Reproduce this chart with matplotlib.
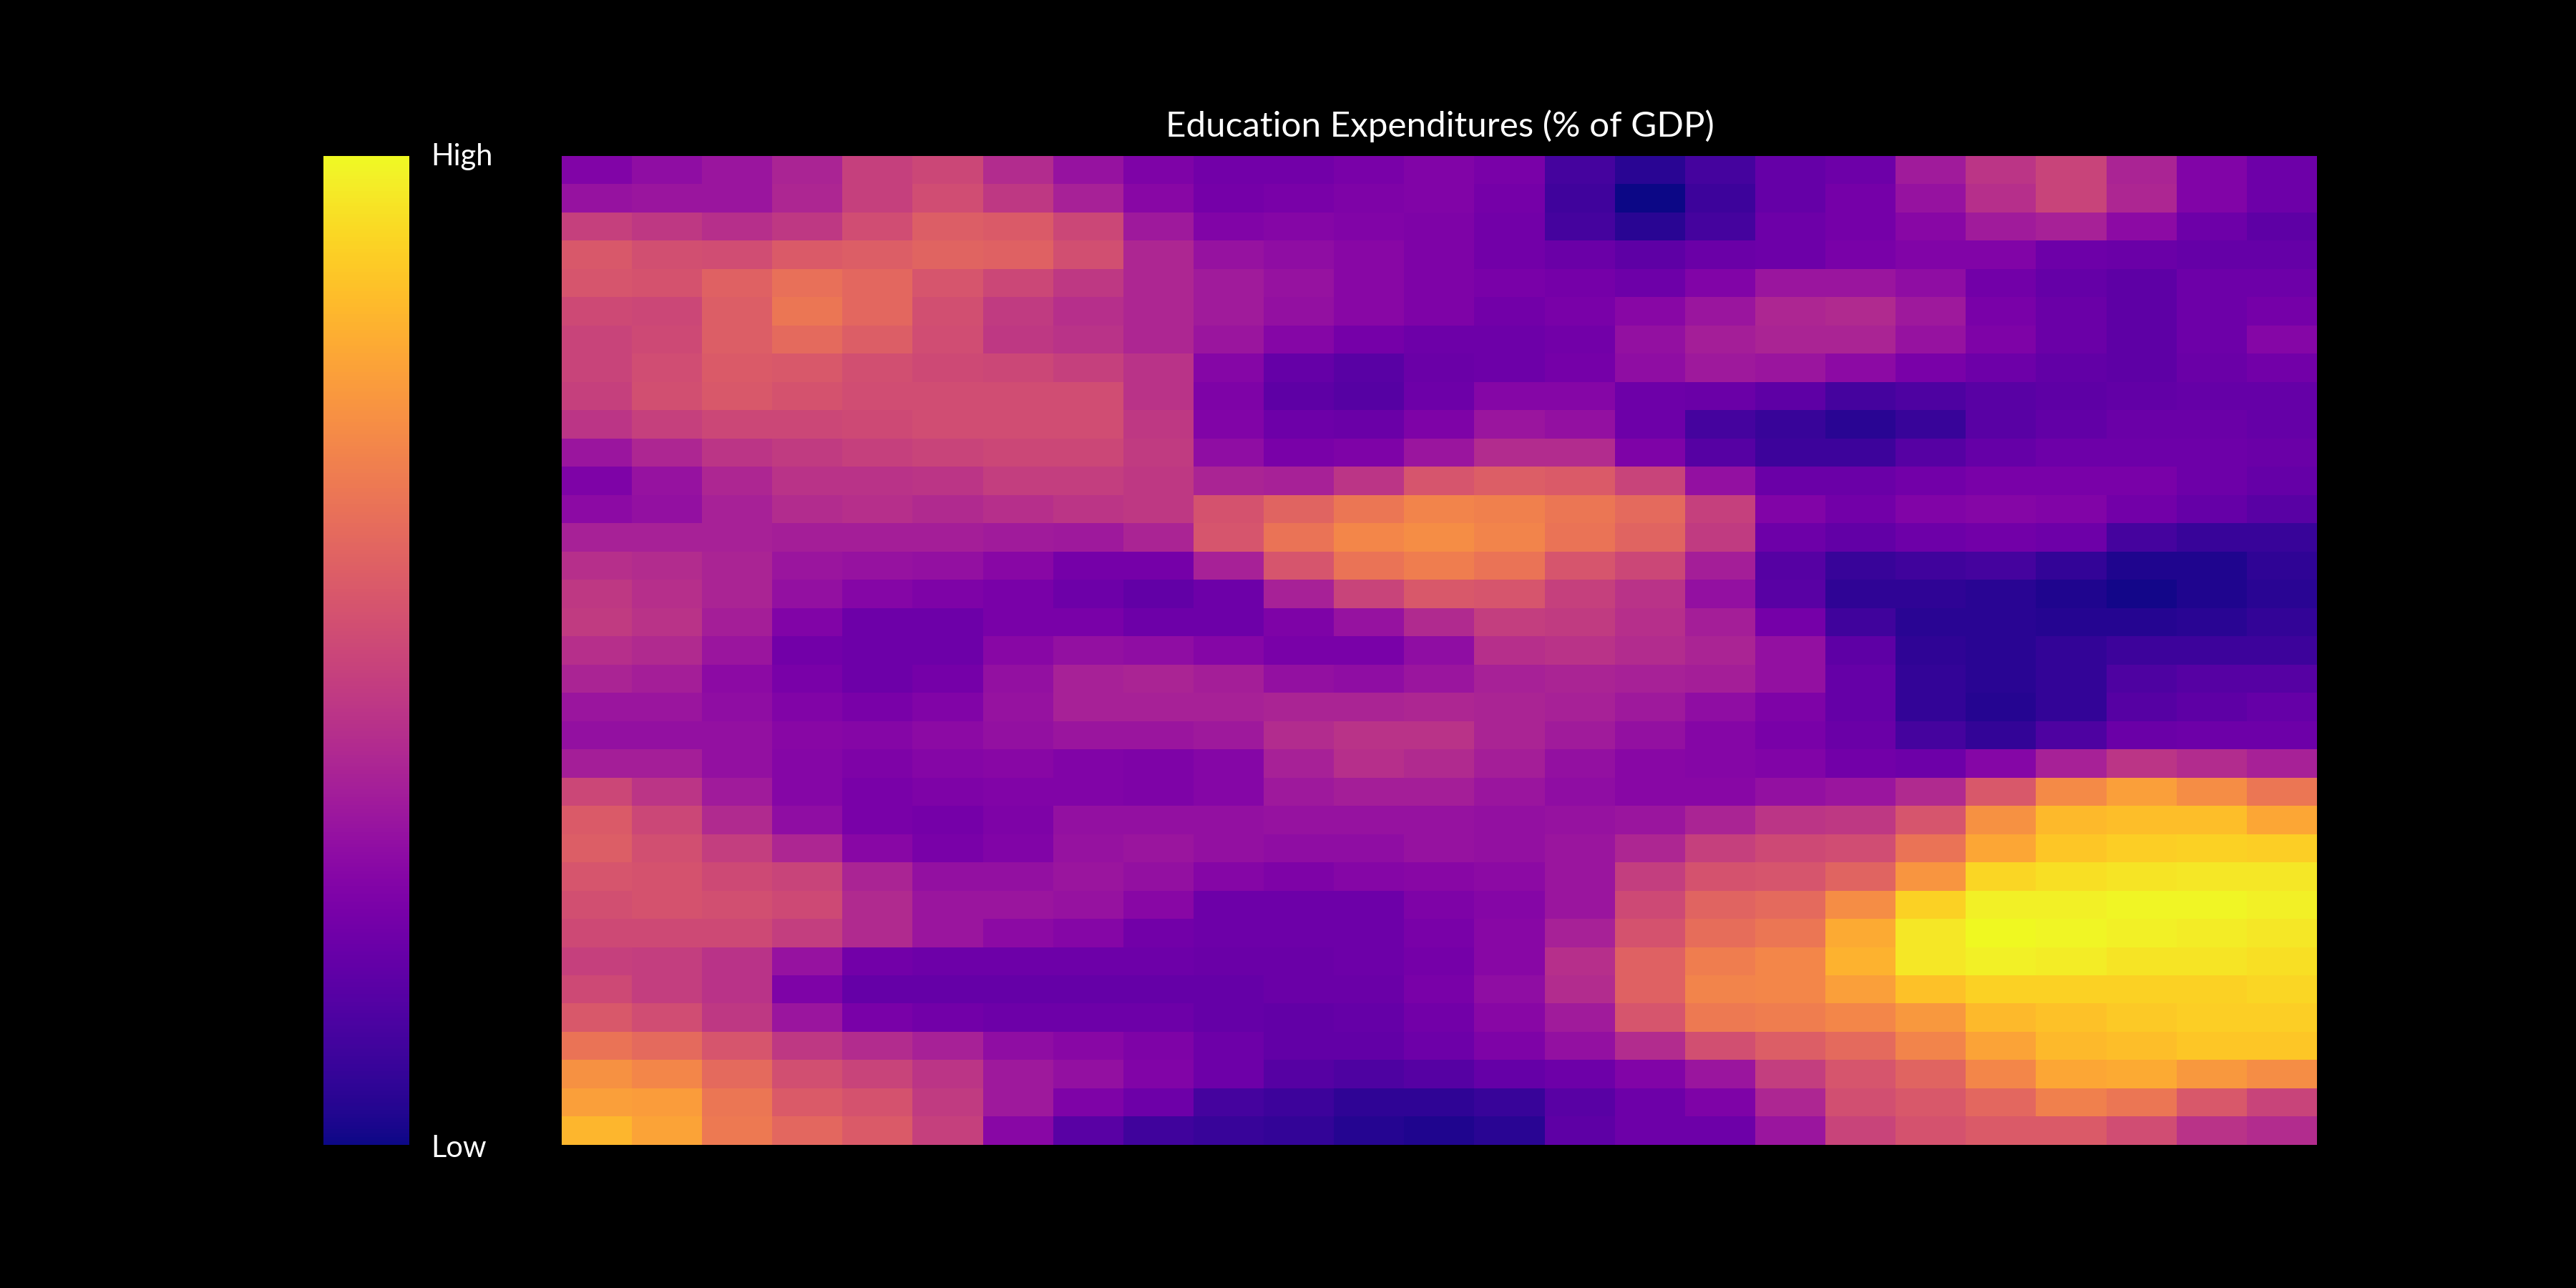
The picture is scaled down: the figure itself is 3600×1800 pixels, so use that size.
# -*- coding: utf-8 -*-

import matplotlib
matplotlib.use("Agg")
import matplotlib.pyplot as plt
import numpy as np

title = "Education Expenditures (% of GDP)"
high_label = "High"
low_label = "Low"

# Values, one list per row, top to bottom (0 = low, 1 = high)
edu_rows = [
    [.26,.30,.33,.38,.48,.50,.41,.32,.25,.22,.22,.24,.26,.24,.11,.05,.11,.19,.21,.35,.44,.49,.38,.26,.21],
    [.32,.33,.33,.39,.48,.52,.45,.37,.28,.23,.24,.25,.26,.23,.10,.00,.09,.19,.23,.32,.42,.49,.39,.26,.21],
    [.48,.45,.42,.45,.52,.58,.57,.50,.34,.26,.27,.26,.25,.22,.11,.05,.11,.21,.23,.28,.35,.37,.29,.21,.17],
    [.56,.53,.52,.57,.58,.60,.59,.53,.39,.32,.30,.28,.25,.22,.20,.17,.20,.21,.24,.26,.26,.21,.20,.19,.19],
    [.55,.54,.59,.64,.61,.55,.50,.45,.39,.35,.32,.28,.25,.24,.23,.21,.26,.33,.33,.30,.22,.19,.17,.21,.21],
    [.51,.50,.58,.66,.61,.53,.46,.42,.39,.35,.31,.28,.25,.22,.24,.28,.33,.39,.40,.34,.24,.20,.17,.21,.23],
    [.49,.51,.58,.62,.58,.52,.45,.43,.39,.33,.27,.23,.21,.21,.22,.31,.36,.38,.38,.32,.25,.20,.17,.21,.27],
    [.49,.52,.57,.56,.53,.51,.50,.48,.43,.27,.19,.16,.20,.21,.23,.30,.34,.33,.29,.24,.21,.18,.17,.20,.22],
    [.48,.53,.56,.54,.52,.52,.52,.52,.43,.25,.17,.15,.21,.27,.27,.21,.20,.17,.11,.13,.16,.17,.18,.19,.19],
    [.44,.48,.50,.50,.51,.52,.52,.52,.45,.26,.21,.20,.25,.33,.31,.21,.11,.08,.05,.08,.16,.18,.20,.20,.19],
    [.33,.39,.44,.46,.48,.49,.50,.50,.46,.30,.24,.25,.33,.41,.41,.25,.15,.09,.09,.15,.19,.21,.21,.21,.20],
    [.25,.32,.39,.43,.43,.44,.47,.47,.45,.38,.37,.44,.55,.58,.57,.49,.31,.20,.20,.22,.24,.24,.24,.21,.19],
    [.29,.31,.37,.41,.42,.40,.42,.44,.45,.54,.60,.66,.70,.69,.66,.62,.48,.26,.22,.26,.27,.26,.22,.19,.16],
    [.37,.37,.37,.36,.36,.36,.35,.34,.38,.55,.65,.71,.73,.70,.65,.60,.46,.21,.18,.21,.22,.21,.11,.08,.08],
    [.42,.41,.38,.33,.32,.31,.28,.23,.23,.37,.55,.65,.68,.65,.55,.50,.36,.15,.08,.10,.11,.07,.03,.03,.06],
    [.45,.42,.38,.31,.27,.25,.24,.21,.18,.21,.37,.49,.56,.55,.48,.43,.31,.16,.06,.06,.05,.03,.01,.03,.05],
    [.46,.43,.36,.26,.21,.21,.24,.24,.21,.21,.25,.32,.40,.47,.46,.42,.36,.23,.10,.05,.05,.04,.04,.05,.07],
    [.42,.40,.33,.22,.21,.21,.28,.31,.30,.27,.24,.24,.30,.42,.43,.41,.38,.31,.17,.06,.05,.07,.09,.09,.09],
    [.38,.36,.29,.24,.21,.23,.31,.37,.38,.36,.31,.30,.33,.37,.38,.37,.36,.31,.19,.07,.05,.07,.13,.15,.15],
    [.33,.33,.30,.26,.24,.26,.32,.37,.37,.37,.38,.38,.39,.38,.37,.34,.30,.25,.19,.07,.04,.07,.15,.17,.19],
    [.31,.31,.31,.28,.27,.29,.31,.33,.33,.34,.41,.43,.43,.38,.35,.31,.27,.24,.20,.11,.07,.13,.20,.21,.21],
    [.36,.36,.31,.27,.25,.27,.28,.26,.25,.27,.37,.42,.40,.36,.31,.28,.27,.26,.22,.21,.27,.37,.44,.41,.37],
    [.50,.44,.35,.27,.24,.25,.26,.26,.25,.27,.34,.36,.36,.33,.30,.28,.28,.31,.33,.40,.56,.72,.78,.73,.66],
    [.57,.50,.40,.30,.24,.23,.25,.31,.31,.31,.32,.32,.32,.31,.32,.33,.38,.44,.45,.55,.74,.85,.86,.86,.80],
    [.58,.53,.47,.39,.28,.24,.26,.32,.33,.31,.30,.30,.32,.31,.33,.39,.48,.51,.52,.65,.80,.88,.90,.91,.90],
    [.55,.54,.51,.49,.38,.31,.31,.33,.31,.27,.25,.27,.28,.29,.33,.47,.54,.55,.60,.75,.92,.94,.95,.96,.96],
    [.53,.54,.53,.51,.40,.33,.33,.32,.28,.21,.21,.21,.25,.27,.33,.51,.60,.62,.73,.91,.98,.98,.99,.99,.98],
    [.51,.51,.51,.47,.40,.33,.29,.27,.22,.21,.21,.21,.24,.28,.37,.54,.63,.66,.81,.96,1.0,.99,.98,.97,.96],
    [.48,.47,.43,.32,.22,.21,.21,.21,.21,.20,.20,.21,.23,.28,.42,.59,.68,.71,.83,.96,.98,.97,.95,.95,.94],
    [.51,.47,.43,.25,.19,.19,.19,.19,.19,.19,.20,.20,.24,.30,.41,.59,.70,.71,.78,.87,.91,.91,.91,.91,.92],
    [.56,.52,.45,.33,.24,.22,.21,.21,.21,.19,.18,.19,.22,.28,.35,.55,.67,.68,.71,.76,.85,.87,.89,.90,.90],
    [.65,.62,.55,.45,.41,.37,.30,.28,.25,.21,.18,.18,.21,.25,.31,.41,.53,.58,.62,.70,.79,.85,.86,.88,.88],
    [.74,.71,.62,.53,.49,.44,.34,.31,.26,.21,.15,.13,.15,.19,.21,.26,.33,.47,.55,.60,.71,.80,.81,.76,.73],
    [.78,.77,.66,.57,.54,.46,.34,.25,.21,.11,.09,.06,.06,.08,.16,.21,.25,.39,.53,.56,.61,.69,.66,.56,.49],
    [.84,.79,.67,.61,.57,.48,.28,.16,.10,.08,.07,.04,.03,.05,.17,.21,.21,.33,.49,.54,.57,.57,.52,.43,.41],
]

W, H = 3600, 1800

plt.rcParams['font.family'] = ['Lato', 'DejaVu Sans']

fig = plt.figure(figsize=(18, 9), dpi=200, facecolor='black')

# Heatmap
ax = fig.add_axes([785 / W, 1 - 1600 / H, (3238 - 785) / W, (1600 - 218) / H])
im = ax.imshow(np.array(edu_rows), cmap='plasma', vmin=0, vmax=1,
               aspect='auto', interpolation='nearest')
ax.axis('off')

# Colour bar on the left
cax = fig.add_axes([452 / W, 1 - 1600 / H, (572 - 452) / W, (1600 - 218) / H])
cbar = fig.colorbar(im, cax=cax)
cbar.set_ticks([])
cbar.outline.set_visible(False)

fig.text(2012 / W, 1 - 191 / H, title, color='white', fontsize=17.8,
         ha='center', va='baseline')
fig.text(602 / W, 1 - 231 / H, high_label, color='white', fontsize=15,
         ha='left', va='baseline')
fig.text(602 / W, 1 - 1617 / H, low_label, color='white', fontsize=15,
         ha='left', va='baseline')

fig.savefig('out.png', dpi=200, facecolor='black')
